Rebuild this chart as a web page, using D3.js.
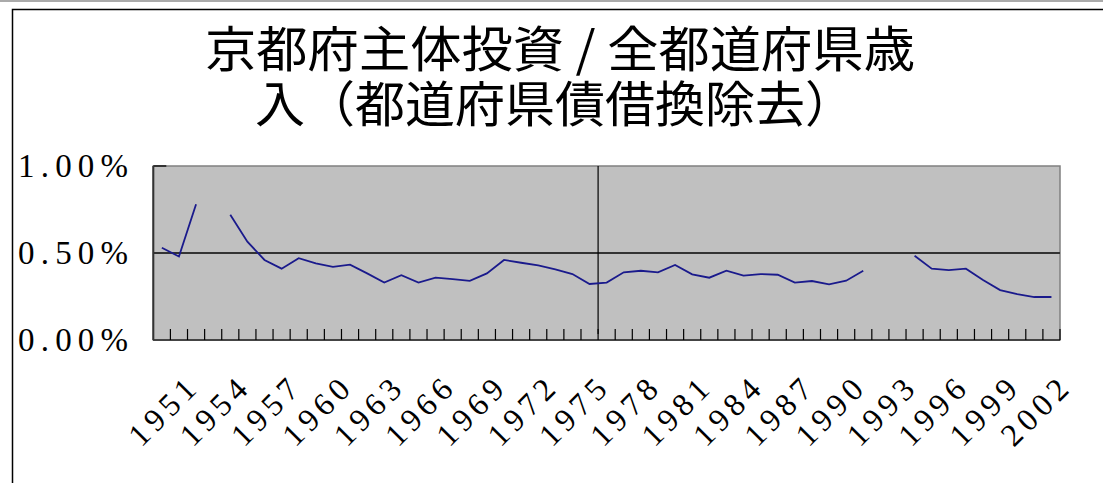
<!DOCTYPE html>
<html><head><meta charset="utf-8">
<script src="https://cdn.jsdelivr.net/npm/d3@7"></script>
<style>html,body{margin:0;padding:0;background:#fff;overflow:hidden}</style>
</head><body>
<svg id="c" width="1103" height="483"></svg>
<script>
const titleLines = ["京都府主体投資 / 全都道府県歳", "入（都道府県債借換除去）"];
const years = [1951,1952,1953,1954,1955,1956,1957,1958,1959,1960,1961,1962,1963,1964,1965,1966,1967,1968,1969,1970,
  1971,1972,1973,1974,1975,1976,1977,1978,1979,1980,1981,1982,1983,1984,1985,1986,1987,1988,1989,1990,
  1991,1992,1993,1994,1995,1996,1997,1998,1999,2000,2001,2002,2003];
// percent values (null = missing)
const ratio = [0.53,0.48,0.78,null,0.72,0.565,0.46,0.41,0.47,0.44,0.42,0.433,0.383,0.33,0.372,0.33,0.358,0.35,0.34,0.383,
  0.46,0.444,0.429,0.406,0.379,0.322,0.33,0.389,0.398,0.389,0.431,0.377,0.358,0.398,0.37,0.379,0.375,0.33,0.339,0.32,
  0.341,0.398,null,null,0.484,0.41,0.402,0.41,0.345,0.287,0.263,0.247,0.247];
const xTickLabels = [1951,1954,1957,1960,1963,1966,1969,1972,1975,1978,1981,1984,1987,1990,1993,1996,1999,2002];
const yTicks = [0, 0.5, 1.0];
const yTickLabels = ["0.00%", "0.50%", "1.00%"];
const crossYear = 1977;

const svg = d3.select("#c");
const L = 153.3, R = 1060, T = 166, B = 340;

// chart outer frame
svg.append("line").attr("x1",0).attr("x2",1103).attr("y1",1).attr("y2",1).attr("stroke","#aaa").attr("stroke-width",2);
svg.append("rect").attr("x",12.5).attr("y",9.5).attr("width",1200).attr("height",600)
  .attr("fill","none").attr("stroke","#000").attr("stroke-width",1.5);

const x = d3.scaleBand().domain(years).range([L, R]).paddingInner(0).paddingOuter(0);
const y = d3.scaleLinear().domain([0, 1.0]).range([B, T]);

// plot area
svg.append("rect").attr("x",L).attr("y",T).attr("width",R-L).attr("height",B-T)
  .attr("fill","#c0c0c0").attr("stroke","#808080").attr("stroke-width",1.5);

// gridlines
svg.append("g").selectAll("line").data(yTicks.filter(v => v > 0 && v < 1)).join("line")
  .attr("x1",L).attr("x2",R).attr("y1",d=>y(d)).attr("y2",d=>y(d))
  .attr("stroke","#333").attr("stroke-width",2);

// y axis ticks (inward)
svg.append("g").selectAll("line").data(yTicks).join("line")
  .attr("x1",L).attr("x2",L+13).attr("y1",d=>y(d)).attr("y2",d=>y(d))
  .attr("stroke","#333").attr("stroke-width",2);

// x axis line and ticks
svg.append("line").attr("x1",L).attr("x2",R).attr("y1",B).attr("y2",B).attr("stroke","#444").attr("stroke-width",2);
svg.append("line").attr("x1",L).attr("x2",L).attr("y1",T).attr("y2",B).attr("stroke","#333").attr("stroke-width",2);
svg.append("g").selectAll("line").data(years.slice(1)).join("line")
  .attr("x1",d=>x(d)).attr("x2",d=>x(d)).attr("y1",B).attr("y2",B-11)
  .attr("stroke","#000").attr("stroke-width",1.2);
svg.append("line").attr("x1",R).attr("x2",R).attr("y1",B).attr("y2",B-11).attr("stroke","#000").attr("stroke-width",1.2);

// vertical crossing line
svg.append("line").attr("x1",x(crossYear)).attr("x2",x(crossYear)).attr("y1",T).attr("y2",B-6)
  .attr("stroke","#000").attr("stroke-width",1.2);

// data line
const pts = years.map((yr,i)=>({yr, v: ratio[i]}));
const line = d3.line().defined(d => d.v != null)
  .x(d => x(d.yr) + x.bandwidth()/2).y(d => y(d.v));
svg.append("path").datum(pts).attr("d", line).attr("fill","none")
  .attr("stroke","#1a1a8c").attr("stroke-width",1.8);

// y labels
svg.append("g").selectAll("text").data(yTicks).join("text")
  .attr("x",128).attr("y",d=>y(d)).attr("dy","0.34em")
  .attr("text-anchor","end")
  .attr("font-family","'Liberation Serif', 'DejaVu Serif', serif").attr("font-size",33)
  .attr("textLength",110).attr("lengthAdjust","spacing")
  .text((d,i)=>yTickLabels[i]);

// x labels
svg.append("g").selectAll("text").data(xTickLabels).join("text")
  .attr("transform", d => `translate(${x(d)+x.bandwidth()/2},412) rotate(-45)`)
  .attr("text-anchor","middle").attr("dominant-baseline","central")
  .attr("font-family","'Liberation Serif', 'DejaVu Serif', serif").attr("font-size",32)
  .attr("textLength",80).attr("lengthAdjust","spacing")
  .text(d => d);

// title (one text, two lines)
const tx = [560, 555], ty = [67, 122], tl = [710, 600];
const title = svg.append("text")
  .attr("font-family","'Noto Sans CJK JP', sans-serif").attr("font-size",49)
  .attr("text-anchor","middle").attr("fill","#000");
title.selectAll("tspan").data(titleLines).join("tspan")
  .attr("x",(d,i)=>tx[i]).attr("y",(d,i)=>ty[i])
  .attr("textLength",(d,i)=>tl[i]).attr("lengthAdjust","spacingAndGlyphs")
  .text(d => d);
</script>
</body></html>
